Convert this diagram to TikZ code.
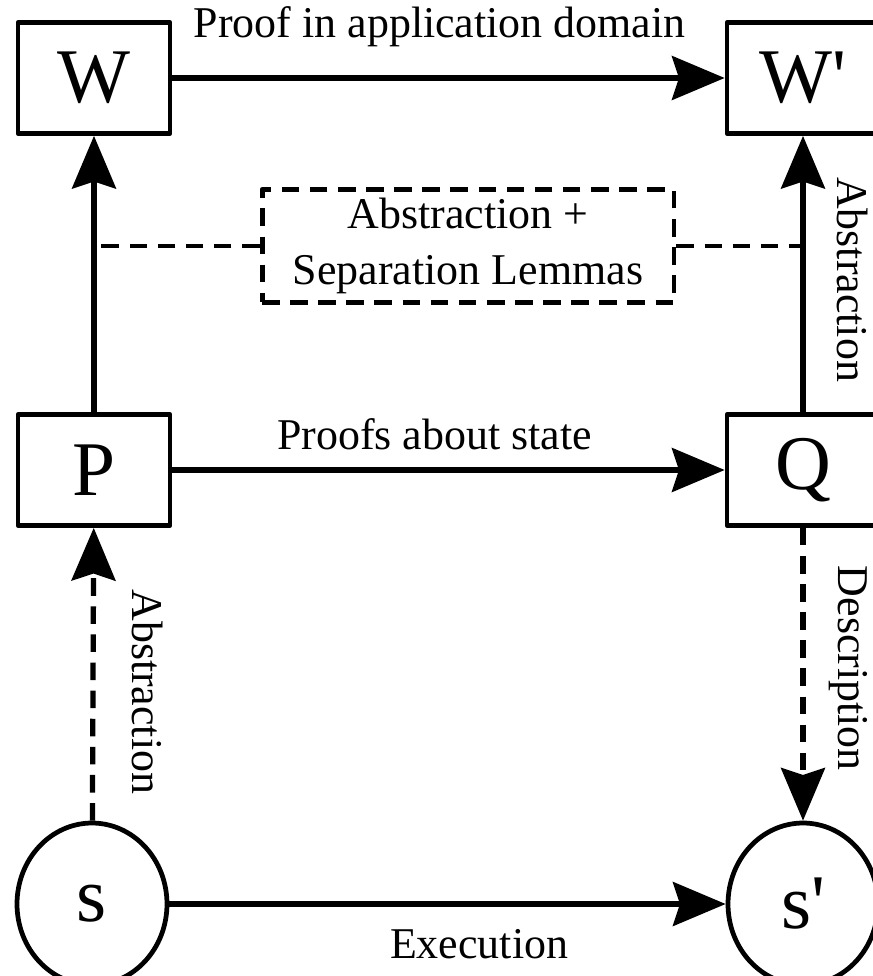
\documentclass[tikz,border=0pt]{standalone}
\usepackage{fontspec}
\setmainfont{Liberation Serif}
\usetikzlibrary{arrows.meta,shapes.geometric}

\tikzset{
  statebox/.style={draw, line width=2.7pt, minimum width=3.04cm, minimum height=2.22cm, inner sep=0pt, font=\fontsize{44}{48}\selectfont},
  stateoval/.style={draw, ellipse, line width=2.7pt, minimum width=3cm, minimum height=3.24cm, inner sep=0pt, font=\fontsize{44}{48}\selectfont},
  lbl/.style={inner sep=0pt, font=\fontsize{25}{32}\selectfont},
  link/.style={line width=3pt, -{Stealth[length=30pt, width=25pt, inset=4pt]}},
  dashlink/.style={link, dash pattern=on 10pt off 6pt},
  dashline/.style={line width=2.8pt, dash pattern=on 10pt off 6pt},
}

\begin{document}
\begin{tikzpicture}[x=0.02cm, y=-0.02cm, line join=round]
    \useasboundingbox (0,0) rectangle (872,976);

    % Boxes (world and state)
    \node[statebox] (W) at (94,78) {W};
    \node[statebox] (Wp) at (803,78) {W\textquotesingle};
    \node[statebox] (P) at (94,470) {P};
    \node[statebox] (Q) at (803,470) {Q};

    % Ovals (machine states)
    \node[stateoval] (s) at (92,904) {s};
    \node[stateoval] (sp) at (803,904) {s\textquotesingle};

    % Lemma box
    \node[lbl, draw, dashline, minimum width=8.24cm, minimum height=2.26cm, align=center] (lemmas) at (468,246) {Abstraction +\\Separation Lemmas};

    % Horizontal arrows
    \draw[link] (W) -- (Wp) node[lbl, midway, above=16pt, xshift=-5pt] {Proof in application domain};
    \draw[link] (P) -- (Q) node[lbl, midway, above=10pt, xshift=-8pt] {Proofs about state};
    \draw[link] (s) -- (sp) node[lbl, midway, below=13pt, xshift=18pt] {Execution};

    % Vertical arrows
    \draw[link] (P) -- (W);
    \draw[link] (Q) -- (Wp) node[lbl, pos=0.48, xshift=28pt, rotate=-90] {Abstraction};
    \draw[dashlink] (s) -- (P) node[lbl, pos=0.44, xshift=31pt, rotate=-90] {Abstraction};
    \draw[dashlink] (Q) -- (sp) node[lbl, pos=0.48, xshift=26pt, rotate=-90] {Description};

    % Lemma box to the abstraction arrows
    \draw[dashline] (lemmas.west) -- (lemmas.west -| W.center);
    \draw[dashline] (lemmas.east) -- (lemmas.east -| Wp.center);
\end{tikzpicture}
\end{document}
